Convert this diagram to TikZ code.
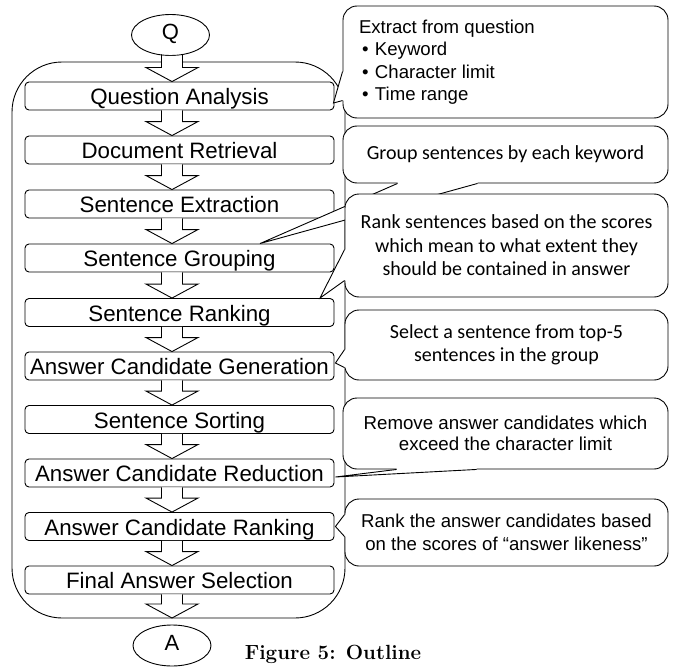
\documentclass[tikz,border=0pt]{standalone}
\usepackage{fontspec}
\newfontfamily\arialf{Liberation Sans}
\newfontfamily\calibrif{Carlito}
\usetikzlibrary{calc,shapes.geometric}
\newcommand\bul{\makebox[16pt][l]{\hspace{3pt}\textbullet}}
% hollow block arrow from point #1 (shaft top) to point #2 (tip), #3 = extra shaft length upward
\newcommand\blockarrow[3]{%
  \fill[white] let \p1=(#1), \p2=(#2) in
    (161.5pt,\y1) -- (161.5pt,\y2+14pt) -- (146pt,\y2+14pt) -- (172pt,\y2)
    -- (198pt,\y2+14pt) -- (182.5pt,\y2+14pt) -- (182.5pt,\y1) -- cycle;
  \draw[line join=miter] let \p1=(#1), \p2=(#2) in
    (161.5pt,\y1+#3) -- (161.5pt,\y2+14pt) -- (146pt,\y2+14pt) -- (172pt,\y2)
    -- (198pt,\y2+14pt) -- (182.5pt,\y2+14pt) -- (182.5pt,\y1+#3);}
% callout pointer: #1 tip, #2 #3 base points on the edge, #4 #5 the same moved inside
\newcommand\calloutptr[5]{%
  \fill[white] (#2) -- (#1) -- (#3) -- (#5) -- (#4) -- cycle;
  \draw (#2) -- (#1) -- (#3);}
\begin{document}
\begin{tikzpicture}[x=1pt,y=-1pt,line width=0.9pt,
  frame/.style={draw, rounded corners=50pt, minimum width=333pt, minimum height=556pt, inner sep=0pt},
  proc/.style={draw, fill=white, rounded corners=4pt, minimum width=309pt, minimum height=28pt,
    inner sep=0pt, text height=18.5pt, text depth=1.5pt, font=\arialf\fontsize{22.3}{24}\selectfont},
  term/.style={draw, ellipse, minimum width=78pt, minimum height=41pt, inner sep=0pt,
    text height=10pt, text depth=0pt, font=\arialf\fontsize{22}{24}\selectfont},
  callbox/.style={draw, fill=white, rounded corners=14pt, inner sep=0pt, align=center},
  arialtext/.style={font=\arialf\fontsize{18.6}{22.5}\selectfont},
  calibritext/.style={font=\calibrif\fontsize{20}{23.5}\selectfont}]
\useasboundingbox (0,0) rectangle (675,669);

\node[frame] (pipeline) at (178.5,340) {};
\node[term] (q) at (170.5,35) {Q};
\node[proc] (qa)  at (179.5,96)    {Question Analysis};
\node[proc] (dr)  at (179.5,150)   {Document Retrieval};
\node[proc] (se)  at (179.5,204)   {Sentence Extraction};
\node[proc] (sg)  at (179.5,258)   {Sentence Grouping};
\node[proc] (sr)  at (179.5,312.5) {Sentence Ranking};
\node[proc] (acg) at (179.5,366)   {Answer Candidate Generation};
\node[proc] (ss)  at (179.5,419.5) {Sentence Sorting};
\node[proc] (acr) at (179.5,473)   {Answer Candidate Reduction};
\node[proc] (ack) at (179.5,526.5) {Answer Candidate Ranking};
\node[proc] (fas) at (179.5,580)   {Final Answer Selection};
\node[term] (a) at (172,645.5) {A};
\coordinate (tipA) at (172,618);

\blockarrow{q.south}{qa.north}{1.5pt}
\blockarrow{qa.south}{dr.north}{0pt}
\blockarrow{dr.south}{se.north}{0pt}
\blockarrow{se.south}{sg.north}{0pt}
\blockarrow{sg.south}{sr.north}{0pt}
\blockarrow{sr.south}{acg.north}{0pt}
\blockarrow{acg.south}{ss.north}{0pt}
\blockarrow{ss.south}{acr.north}{0pt}
\blockarrow{acr.south}{ack.north}{0pt}
\blockarrow{ack.south}{fas.north}{0pt}
\blockarrow{fas.south}{tipA}{0pt}

% callouts
\node[callbox, minimum width=325pt, minimum height=112pt] (c1) at (505.5,62) {};
\node[arialtext, align=left, anchor=west, inner sep=0pt] (c1text) at ($(c1.west)+(16,0)$)
  {Extract from question\\\bul Keyword\\\bul Character limit\\\bul Time range};
\calloutptr{$(qa.east)+(-1,7)$}{$(c1.north west)+(0,66)$}{$(c1.north west)+(0,95)$}{$(c1.north west)+(2,66)$}{$(c1.north west)+(2,95)$}

\node[callbox, calibritext, minimum width=325pt, minimum height=57pt] (c2) at (505.5,154.5)
  {Group sentences by each keyword};
\calloutptr{$(sg.north)+(80.5,0)$}{$(c2.south west)+(55,0)$}{$(c2.south west)+(135,0)$}{$(c2.south west)+(55,-2)$}{$(c2.south west)+(135,-2)$}

\node[callbox, calibritext, minimum width=323pt, minimum height=103pt] (c3) at (506.5,245.5)
  {Rank sentences based on the scores\\which mean to what extent they\\should be contained in answer};
\calloutptr{$(sr.north)+(140.5,0)$}{$(c3.north west)+(0,56)$}{$(c3.north west)+(0,87)$}{$(c3.north west)+(2,56)$}{$(c3.north west)+(2,87)$}

\node[callbox, calibritext, minimum width=323pt, minimum height=70pt] (c4) at (506.5,345)
  {Select a sentence from top-5\\sentences in the group};
\calloutptr{$(acg.east)+(1,-3)$}{$(c4.north west)+(0,40)$}{$(c4.north west)+(0,58)$}{$(c4.north west)+(2,40)$}{$(c4.north west)+(2,58)$}

\node[callbox, font=\arialf\fontsize{18.7}{21.5}\selectfont, minimum width=325pt, minimum height=71pt] (c5) at (505.5,433.5)
  {Remove answer candidates which\\exceed the character limit};
\calloutptr{$(acr.east)+(1,4)$}{$(c5.south west)+(54,0)$}{$(c5.south west)+(134,0)$}{$(c5.south west)+(54,-2)$}{$(c5.south west)+(134,-2)$}

\node[callbox, font=\arialf\fontsize{18.6}{23}\selectfont, minimum width=323pt, minimum height=67pt] (c6) at (506.5,532.5)
  {Rank the answer candidates based\\on the scores of “answer likeness”};
\calloutptr{$(ack.east)+(1,0)$}{$(c6.north west)+(0,16)$}{$(c6.north west)+(0,38)$}{$(c6.north west)+(2,16)$}{$(c6.north west)+(2,38)$}

\node[font=\fontsize{20.5}{24}\selectfont\bfseries, anchor=base, inner sep=0pt] (cap) at (333,659) {Figure 5: Outline};
\end{tikzpicture}
\end{document}
